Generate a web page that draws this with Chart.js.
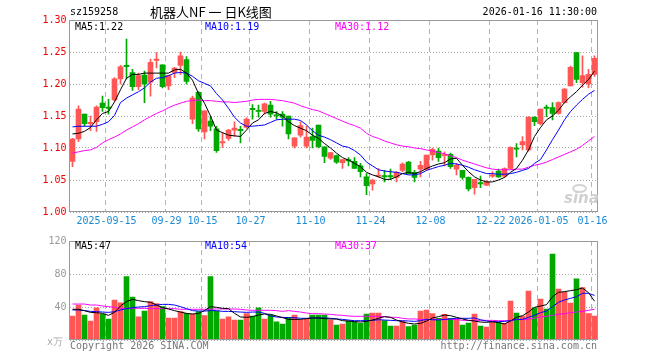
<!DOCTYPE html>
<html>
<head>
<meta charset="utf-8">
<script src="https://cdn.jsdelivr.net/npm/chart.js@4.4.1/dist/chart.umd.min.js"></script>
<style>
  html, body { margin: 0; padding: 0; background: #fff; }
  #wrap { position: relative; width: 660px; height: 360px; overflow: hidden;
          font-family: 'DejaVu Sans Mono', monospace; font-size: 10px; }
  canvas { position: absolute; left: 0; }
  .t { position: absolute; white-space: nowrap; line-height: 12px; z-index: 2; }
</style>
</head>
<body>
<div id="wrap">
  <canvas id="kChart" width="660" height="232" style="top:0"></canvas>
  <canvas id="volChart" width="660" height="128" style="top:232px"></canvas>

  <div class="t" style="left:70px;top:6px;color:#000">sz159258</div>
  <div class="t" style="left:150px;top:4px;color:#000;font-family:'Noto Sans CJK SC';font-size:13px;line-height:16px">机器人NF 一 日K线图</div>
  <div class="t" style="right:63px;top:6px;color:#000">2026-01-16 11:30:00</div>

  <div class="t" id="kMa5"  style="left:75px;top:21px;color:#000"></div>
  <div class="t" id="kMa10" style="left:205px;top:21px;color:#0000ff"></div>
  <div class="t" id="kMa30" style="left:335px;top:21px;color:#ff00ff"></div>

  <div class="t" id="vMa5"  style="left:75px;top:240px;color:#000"></div>
  <div class="t" id="vMa10" style="left:205px;top:240px;color:#0000ff"></div>
  <div class="t" id="vMa30" style="left:335px;top:240px;color:#ff00ff"></div>

  <div class="t" style="left:47px;top:336px;color:#aaa">x万</div>
  <div class="t" style="left:70px;top:340px;color:#777">Copyright 2026 SINA.COM</div>
  <div class="t" style="right:63px;top:340px;color:#777">http://finance.sina.com.cn</div>

  <div style="position:absolute;left:572px;top:184px;width:11px;height:5px;border:2px solid #d4d4d4;border-radius:50%;z-index:1"></div>
  <div class="t" style="left:564px;top:191px;color:#d0d0d0;font-family:'DejaVu Sans';font-style:italic;font-weight:bold;font-size:15px;line-height:15px;z-index:1">sina</div>
</div>

<script>
// ── Data ─────────────────────────────────

const dates = [
  '2025-09-05','2025-09-08','2025-09-09','2025-09-10','2025-09-11','2025-09-12','2025-09-15','2025-09-16','2025-09-17','2025-09-18',
  '2025-09-19','2025-09-22','2025-09-23','2025-09-24','2025-09-25','2025-09-26','2025-09-29','2025-09-30','2025-10-09','2025-10-10',
  '2025-10-13','2025-10-14','2025-10-15','2025-10-16','2025-10-17','2025-10-20','2025-10-21','2025-10-22','2025-10-23','2025-10-24',
  '2025-10-27','2025-10-28','2025-10-29','2025-10-30','2025-10-31','2025-11-03','2025-11-04','2025-11-05','2025-11-06','2025-11-07',
  '2025-11-10','2025-11-11','2025-11-12','2025-11-13','2025-11-14','2025-11-17','2025-11-18','2025-11-19','2025-11-20','2025-11-21',
  '2025-11-24','2025-11-25','2025-11-26','2025-11-27','2025-11-28','2025-12-01','2025-12-02','2025-12-03','2025-12-04','2025-12-05',
  '2025-12-08','2025-12-09','2025-12-10','2025-12-11','2025-12-12','2025-12-15','2025-12-16','2025-12-17','2025-12-18','2025-12-19',
  '2025-12-22','2025-12-23','2025-12-24','2025-12-25','2025-12-26','2025-12-29','2025-12-30','2025-12-31','2026-01-05','2026-01-06',
  '2026-01-07','2026-01-08','2026-01-09','2026-01-12','2026-01-13','2026-01-14','2026-01-15','2026-01-16'
];

const tickDates  = ['2025-09-15','2025-09-29','2025-10-15','2025-10-27','2025-11-10','2025-11-24','2025-12-08','2025-12-22','2026-01-05','2026-01-16'];
const tickLabels = ['2025-09-15','09-29','10-15','10-27','11-10','11-24','12-08','12-22','2026-01-05','01-16'];

const opens = [
  1.079,1.114,1.153,1.138,1.141,1.170,1.164,1.175,1.208,1.229,
  1.218,1.196,1.214,1.203,1.237,1.230,1.197,1.218,1.229,1.238,
  1.145,1.187,1.125,1.142,1.130,1.108,1.115,1.128,1.129,1.132,
  1.162,1.159,1.157,1.167,1.152,1.153,1.150,1.103,1.120,1.103,
  1.118,1.136,1.102,1.084,1.088,1.077,1.082,1.079,1.072,1.055,
  1.044,1.056,1.057,1.057,1.054,1.065,1.078,1.062,1.067,1.067,
  1.089,1.095,1.088,1.090,1.067,1.065,1.054,1.038,1.046,1.042,
  1.056,1.064,1.056,1.068,1.100,1.105,1.097,1.148,1.138,1.164,
  1.163,1.154,1.171,1.197,1.249,1.202,1.200,1.215
];
const closes = [
  1.114,1.161,1.138,1.140,1.164,1.163,1.162,1.208,1.227,1.227,
  1.196,1.213,1.200,1.234,1.239,1.196,1.213,1.225,1.244,1.204,
  1.178,1.130,1.158,1.134,1.096,1.110,1.128,1.131,1.127,1.145,
  1.160,1.157,1.169,1.153,1.150,1.148,1.122,1.116,1.135,1.117,
  1.112,1.102,1.087,1.093,1.078,1.082,1.080,1.068,1.063,1.041,
  1.050,1.057,1.055,1.055,1.062,1.075,1.060,1.054,1.073,1.089,
  1.098,1.085,1.089,1.071,1.073,1.054,1.036,1.051,1.044,1.047,
  1.058,1.055,1.068,1.101,1.098,1.110,1.148,1.141,1.161,1.162,
  1.154,1.171,1.192,1.226,1.207,1.213,1.215,1.240
];
const highs = [
  1.115,1.166,1.153,1.150,1.166,1.181,1.176,1.210,1.229,1.270,
  1.223,1.217,1.220,1.239,1.249,1.230,1.214,1.226,1.250,1.243,
  1.181,1.188,1.158,1.149,1.134,1.124,1.129,1.141,1.134,1.147,
  1.168,1.167,1.170,1.173,1.157,1.157,1.150,1.116,1.141,1.134,
  1.131,1.136,1.102,1.093,1.089,1.082,1.085,1.085,1.076,1.060,
  1.051,1.068,1.065,1.067,1.063,1.077,1.079,1.065,1.079,1.089,
  1.100,1.100,1.094,1.092,1.076,1.065,1.055,1.051,1.056,1.049,
  1.063,1.067,1.069,1.102,1.107,1.118,1.149,1.149,1.161,1.167,
  1.171,1.172,1.193,1.228,1.249,1.244,1.223,1.244
];
const lows = [
  1.071,1.110,1.134,1.127,1.126,1.157,1.153,1.173,1.200,1.208,
  1.190,1.191,1.171,1.181,1.225,1.194,1.191,1.210,1.215,1.200,
  1.138,1.126,1.114,1.127,1.093,1.101,1.112,1.118,1.108,1.131,
  1.145,1.148,1.153,1.148,1.145,1.134,1.114,1.100,1.117,1.100,
  1.100,1.100,1.077,1.082,1.076,1.068,1.072,1.068,1.055,1.027,
  1.034,1.054,1.047,1.051,1.047,1.063,1.059,1.047,1.055,1.065,
  1.081,1.079,1.072,1.068,1.058,1.051,1.033,1.028,1.038,1.041,
  1.054,1.054,1.054,1.067,1.086,1.097,1.095,1.135,1.136,1.149,
  1.144,1.153,1.170,1.197,1.202,1.195,1.194,1.212
];

const ma5 = [
  1.122,1.123,1.126,1.132,1.144,1.154,1.157,1.172,1.191,1.209,
  1.215,1.215,1.217,1.217,1.217,1.217,1.217,1.222,1.223,1.217,
  1.206,1.185,1.170,1.150,1.128,1.124,1.120,1.119,1.118,1.128,
  1.139,1.144,1.154,1.157,1.155,1.150,1.141,1.135,1.131,1.127,
  1.120,1.115,1.107,1.100,1.092,1.085,1.081,1.076,1.071,1.062,
  1.058,1.055,1.051,1.051,1.055,1.060,1.062,1.060,1.063,1.068,
  1.072,1.075,1.077,1.083,1.084,1.073,1.063,1.055,1.050,1.047,
  1.047,1.050,1.054,1.062,1.068,1.081,1.097,1.118,1.132,1.144,
  1.150,1.159,1.171,1.180,1.188,1.198,1.207,1.220
];
const ma10 = [
  1.133,1.134,1.134,1.134,1.134,1.137,1.141,1.151,1.171,1.178,
  1.183,1.188,1.194,1.203,1.209,1.210,1.213,1.217,1.218,1.217,
  1.212,1.205,1.201,1.197,1.185,1.175,1.162,1.148,1.139,1.134,
  1.134,1.135,1.136,1.140,1.144,1.145,1.145,1.145,1.143,1.136,
  1.127,1.120,1.117,1.113,1.108,1.103,1.101,1.096,1.089,1.078,
  1.072,1.066,1.064,1.063,1.062,1.060,1.058,1.058,1.060,1.065,
  1.068,1.071,1.073,1.076,1.075,1.073,1.070,1.066,1.063,1.060,
  1.060,1.059,1.059,1.060,1.062,1.065,1.068,1.076,1.082,1.097,
  1.113,1.128,1.144,1.157,1.167,1.176,1.184,1.190
];
const ma30 = [
  1.092,1.094,1.096,1.097,1.101,1.108,1.113,1.117,1.122,1.128,
  1.133,1.138,1.144,1.149,1.154,1.158,1.163,1.167,1.170,1.173,
  1.174,1.175,1.174,1.174,1.173,1.172,1.172,1.171,1.172,1.173,
  1.175,1.176,1.176,1.176,1.175,1.174,1.172,1.170,1.166,1.163,
  1.160,1.158,1.154,1.150,1.146,1.142,1.138,1.135,1.131,1.123,
  1.118,1.115,1.111,1.108,1.105,1.103,1.102,1.100,1.099,1.097,
  1.095,1.093,1.091,1.088,1.085,1.081,1.078,1.075,1.072,1.069,
  1.067,1.066,1.066,1.066,1.067,1.067,1.070,1.073,1.075,1.078,
  1.082,1.086,1.090,1.094,1.098,1.104,1.111,1.118
];

// volume, 万
const volumes = [
  29,42.4,30.3,23,39,31,25.5,48.5,45,76.8,
  52,28,35,46.5,44,40.4,26.7,26.7,34.3,32.3,
  31.5,34.3,29.5,76.8,35,25.5,28,24.2,24.2,32,
  29,39,25.5,30.3,22,19.4,27.5,30.3,24.2,25,
  30.3,30.3,30.3,24.2,18.2,19.4,23,22,20.2,31.5,
  32.7,32.7,23.4,17,17,23,16.2,18.2,35,36.4,
  32,26.3,31,26.3,25.5,18.2,20.6,31.5,17,15.8,
  22,21.4,20.2,47.3,32.7,29,59.4,39,49.7,37.6,
  104,61.8,57.8,44.8,74,63.4,32,29
];
const volMa5 = [
  37.2,37.2,35.6,33.5,33.1,32.3,29.9,33.5,41.2,46.5,
  49.3,47.7,46.5,45.7,42.4,39.2,37.6,35.6,33.9,32.3,
  31.5,32.3,35.6,40.4,39.6,38.4,38,32.3,27.9,27.5,
  28.3,30.3,31.5,31.1,29.1,27.1,25,25,25,25.9,
  26.7,26.7,25.9,25.5,25.5,23.4,23,22.2,21.8,22.6,
  24.2,26.3,28.3,27.5,24.2,21.8,20.2,19.4,20.2,23,
  26.7,28.3,30.3,29.5,27.5,25.5,23.8,23,21.8,21.4,
  22.2,21,19.4,23,27.5,29.5,33.9,39.6,41.2,42.8,
  52.5,57.8,58.6,59.8,61,63,57.4,47
];
const volMa10 = [
  36.4,36.4,35.6,34.7,34.3,33.9,33.5,34.3,36.4,38,
  39.2,40,40.4,41.6,42.4,43.2,43.2,42.4,40.4,38,
  35.6,35.1,35.1,35.6,35.6,34.7,34.7,34.3,33.9,33.5,
  33.9,33.9,32.3,29.1,27.9,27.5,27.1,27.1,26.3,26.3,
  26.7,26.7,26.7,26.3,25.5,25,24.2,23.4,23.4,23.4,
  23.8,24.6,24.2,23.8,23.4,23.4,23,22.6,23.4,25,
  24.6,24.2,25,25.5,26.3,26.3,26.3,26.7,24.6,23,
  22.2,22.2,22.6,23.4,25,25,27.5,29.9,33.1,35.1,
  40.4,45.7,48.5,50.5,52.5,56.6,56.6,54
];
const volMa30 = [
  43.6,43.6,43.6,42.4,42.4,41.2,40.4,39.6,38.4,38.4,
  38.4,38.4,38.4,38,38,38,38,38,37.2,37.2,
  37.2,37.2,37.2,37.2,37.6,37.6,37.6,37.6,37.2,36.4,
  36,36,36,36,35.6,34.7,35.6,34.7,33.9,32.7,
  31.9,31.9,31.5,31.1,30.3,29.9,29.1,28.7,28.7,28.7,
  28.7,28.7,28.3,27.5,27.5,26.3,25.5,25.5,25,24.6,
  25,25,25,25,25,23.8,23.8,23.8,23.8,23.8,
  23.8,23.4,23.4,23.4,25,25,25,26.7,27.9,28.7,
  29.9,31.1,31.9,33.1,33.9,34.7,36,37.2
];

// ── Styles ───────────────────────────────

const FONT = "'DejaVu Sans Mono', monospace";
Chart.defaults.font.family = FONT;
Chart.defaults.font.size = 10;

const UP = '#ff5656';
const DOWN = '#00a800';
const candleColors = closes.map((c, i) => c >= opens[i] ? UP : DOWN);

const AXIS_W = 69.5;     // left axis width -> plot starts here
const PAD_R = 62.5;      // 660 - right edge of plot

function xScale(showLabels) {
  return {
    type: 'category',
    offset: true,
    grid: {
      offset: true,
      drawTicks: false,
      lineWidth: 1,
      color: c => (c.type === 'tick' && tickDates.includes(dates[c.index])) ? '#b4b4b4' : 'rgba(0,0,0,0)'
    },
    border: { display: false, dash: [5, 4] },
    ticks: {
      display: showLabels,
      autoSkip: false,
      maxRotation: 0,
      minRotation: 0,
      padding: 3,
      labelOffset: -2,
      color: '#1a8ad4',
      callback: (v, i) => {
        const k = tickDates.indexOf(dates[i]);
        return k < 0 ? '' : tickLabels[k];
      }
    },
    afterFit: s => { s.height = showLabels ? 20 : 0; }
  };
}

function maLine(label, data, color) {
  return { type: 'line', label, data, borderColor: color, borderWidth: 1,
           pointRadius: 0, tension: 0, order: 0 };
}

const framePlugin = {
  id: 'frame',
  afterDraw(chart) {
    const { ctx, chartArea: a } = chart;
    ctx.save();
    ctx.strokeStyle = '#9a9a9a';
    ctx.lineWidth = 1;
    ctx.strokeRect(Math.round(a.left) - 0.5, Math.round(a.top) + 0.5,
                   Math.round(a.right - a.left), Math.round(a.bottom - a.top) - 1);
    ctx.restore();
  }
};

// ── K-line chart ─────────────────────────

new Chart(document.getElementById('kChart'), {
  data: {
    labels: dates,
    datasets: [
      maLine('MA5', ma5, '#000000'),
      maLine('MA10', ma10, '#0000ff'),
      maLine('MA30', ma30, '#ff00ff'),
      {
        type: 'bar', label: 'body',
        data: opens.map((o, i) => [o, closes[i]]),
        backgroundColor: candleColors,
        barThickness: 5, grouped: false, minBarLength: 1, order: 1
      },
      {
        type: 'bar', label: 'wick',
        data: lows.map((l, i) => [l, highs[i]]),
        backgroundColor: candleColors,
        barThickness: 1, grouped: false, order: 2
      }
    ]
  },
  options: {
    responsive: false,
    animation: false,
    devicePixelRatio: 1,
    layout: { padding: { left: 0, right: PAD_R, top: 20, bottom: 0 } },
    plugins: { legend: { display: false }, tooltip: { enabled: false } },
    scales: {
      x: xScale(true),
      y: {
        min: 1.0, max: 1.3,
        ticks: { stepSize: 0.05, color: '#f00000', padding: 3, callback: v => v.toFixed(2) },
        grid: { color: '#aaaaaa', drawTicks: false },
        border: { display: false, dash: [1, 2] },
        afterFit: s => { s.width = AXIS_W; }
      }
    }
  },
  plugins: [framePlugin]
});

// ── Volume chart ─────────────────────────

new Chart(document.getElementById('volChart'), {
  data: {
    labels: dates,
    datasets: [
      maLine('MA5', volMa5, '#000000'),
      maLine('MA10', volMa10, '#0000ff'),
      maLine('MA30', volMa30, '#ff00ff'),
      {
        type: 'bar', label: 'vol',
        data: volumes,
        backgroundColor: candleColors,
        barThickness: 5, grouped: false, order: 1
      }
    ]
  },
  options: {
    responsive: false,
    animation: false,
    devicePixelRatio: 1,
    layout: { padding: { left: 0, right: PAD_R, top: 9, bottom: 20 } },
    plugins: { legend: { display: false }, tooltip: { enabled: false } },
    scales: {
      x: xScale(false),
      y: {
        min: 0, max: 120,
        ticks: { stepSize: 40, color: '#999999', padding: 3, callback: v => v === 0 ? '' : v },
        grid: { color: '#aaaaaa', drawTicks: false },
        border: { display: false, dash: [1, 2] },
        afterFit: s => { s.width = AXIS_W; }
      }
    }
  },
  plugins: [framePlugin]
});

// ── MA labels ────────────────────────────

const last = a => a[a.length - 1];
document.getElementById('kMa5').textContent  = `MA5:${last(ma5).toFixed(2)}`;
document.getElementById('kMa10').textContent = `MA10:${last(ma10).toFixed(2)}`;
document.getElementById('kMa30').textContent = `MA30:${last(ma30).toFixed(2)}`;
document.getElementById('vMa5').textContent  = `MA5:${Math.round(last(volMa5))}`;
document.getElementById('vMa10').textContent = `MA10:${Math.round(last(volMa10))}`;
document.getElementById('vMa30').textContent = `MA30:${Math.round(last(volMa30))}`;
</script>
</body>
</html>
